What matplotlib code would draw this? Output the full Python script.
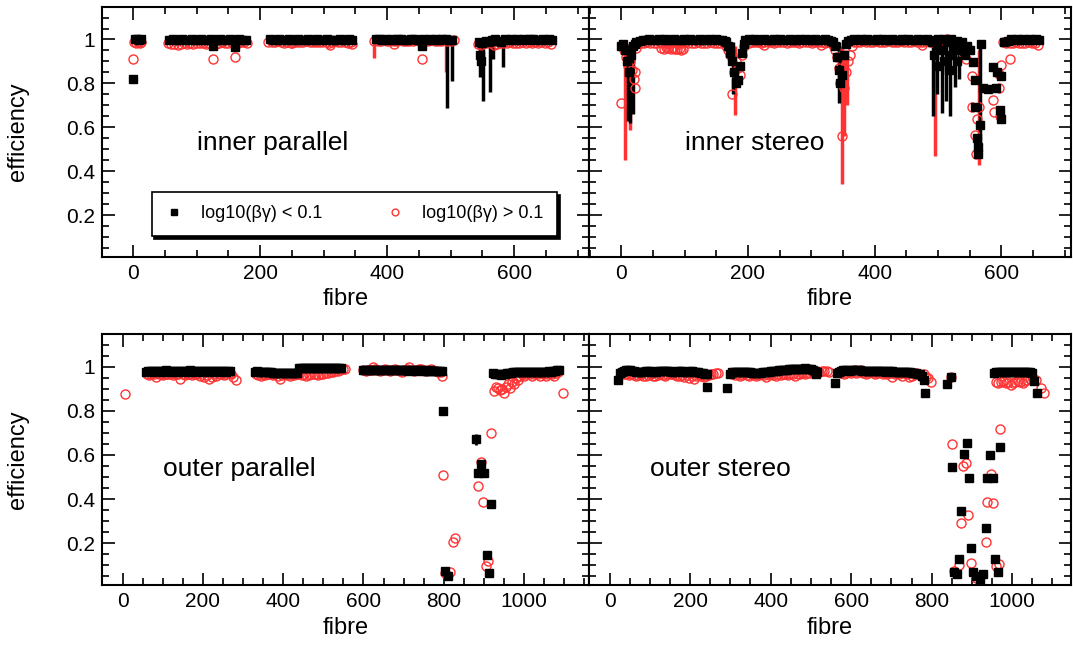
import numpy as np
import matplotlib
matplotlib.use("Agg")
import matplotlib.pyplot as plt
from matplotlib.ticker import MultipleLocator, FuncFormatter

plt.rcParams["font.family"] = ["Liberation Sans", "DejaVu Sans"]

RED = "#ff3333"

# ---- data: segments are (first fibre, fibre step, efficiencies) ----
# inner parallel
ip_k_segs = [
    (3, 3, [1.0, 1.0, 0.998, 1.0]),
    (57, 5, [0.998, 1.0, 0.999, 0.997, 1.0, 0.998, 0.999, 1.0, 0.997, 0.998, 1.0, 0.999, 0.998,
             1.0, 0.997, 0.999, 1.0, 0.998, 0.999, 1.0, 0.998, 0.997, 1.0, 0.999, 0.998]),
    (215, 5, [1.0, 0.999, 0.998, 1.0, 0.999, 0.997, 1.0, 0.998, 0.999, 1.0, 0.998, 0.999, 1.0, 0.997,
              0.999, 1.0, 0.998, 0.999, 1.0, 0.998, 0.999, 0.997, 1.0, 0.999, 0.998, 1.0, 0.999]),
    (382, 5, [1.0, 1.0, 0.999, 1.0, 0.998, 1.0, 0.999, 1.0, 1.0, 0.998, 0.999, 1.0, 1.0, 0.999,
              0.998, 1.0, 0.999, 1.0, 0.998, 1.0, 0.999, 1.0, 1.0, 0.998, 0.999]),
    (545, 5, [0.99, 0.985, 0.995, 0.99, 0.998, 1.0, 0.995, 0.99, 1.0, 0.998, 1.0, 0.999, 1.0, 0.998,
              1.0, 0.999, 1.0, 1.0, 0.998, 0.999, 1.0, 0.999, 1.0, 0.998]),
]
ip_k_x = [0, 125, 160, 455, 546, 548]
ip_k_y = [0.82, 0.97, 0.965, 0.97, 0.93, 0.90]
ip_k_spk_x = [495, 502, 546, 551, 562, 566, 583]
ip_k_spk_top = [1.0, 1.0, 1.0, 1.0, 1.0, 1.0, 1.0]
ip_k_spk_lo = [0.69, 0.81, 0.83, 0.72, 0.76, 0.91, 0.875]

ip_r_segs = [
    (1, 3, [0.99, 0.985, 0.99, 0.985, 0.99]),
    (55, 5, [0.985, 0.98, 0.978, 0.975, 0.98, 0.982, 0.978, 0.985, 0.98, 0.983, 0.985, 0.982, 0.98,
             0.985, 0.983, 0.98, 0.985, 0.987, 0.983, 0.985, 0.99, 0.987, 0.985, 0.988, 0.99, 0.985]),
    (213, 5, [0.99, 0.988, 0.99, 0.992, 0.99, 0.985, 0.988, 0.985, 0.99, 0.99, 0.988, 0.99, 0.992,
              0.99, 0.988, 0.99, 0.99, 0.988, 0.99, 0.985, 0.99, 0.992, 0.99, 0.988, 0.99, 0.985, 0.99]),
    (380, 5, [0.995, 0.993, 0.995, 0.997, 0.995, 0.993, 0.995, 0.995, 0.997, 0.995, 0.993, 0.995,
              0.995, 0.997, 0.995, 0.993, 0.995, 0.995, 0.997, 0.995, 0.993, 0.995, 0.997, 0.995,
              0.995, 0.997]),
    (543, 5, [0.98, 0.975, 0.985, 0.983, 0.985, 0.975, 0.98, 0.985, 0.983, 0.985, 0.987, 0.985,
              0.983, 0.985, 0.987, 0.985, 0.988, 0.985, 0.987, 0.985, 0.988, 0.985, 0.987, 0.98]),
]
ip_r_x = [0, 125, 160, 250, 310, 345, 410, 455]
ip_r_y = [0.91, 0.91, 0.92, 0.982, 0.975, 0.98, 0.98, 0.91]
ip_r_spk_x = [379, 493]
ip_r_spk_top = [0.995, 0.995]
ip_r_spk_lo = [0.915, 0.85]

# inner stereo
is_k_segs = [
    (0, 3, [0.97, 0.98, 0.95, 0.9, 0.85, 0.93, 0.97, 0.98]),
    (24, 5, [0.99, 0.995, 0.997, 0.998, 1.0, 0.999, 0.998, 1.0, 0.999, 1.0, 0.998, 0.999, 1.0, 0.999,
             0.998, 1.0, 0.999, 1.0, 0.998, 0.999, 1.0, 0.999, 0.998, 1.0, 0.999, 1.0, 0.998, 0.999,
             0.995]),
    (166, 3, [0.99, 0.97, 0.94, 0.9, 0.85, 0.8, 0.815, 0.88, 0.94, 0.98]),
    (196, 5, [0.998, 1.0, 0.999, 1.0, 0.998, 0.999, 1.0, 0.999, 0.998, 1.0, 0.999, 1.0, 0.998, 0.999,
              1.0, 0.999, 0.998, 1.0, 0.999, 1.0, 0.998, 0.999, 1.0, 0.999, 0.998, 1.0, 0.999, 0.995]),
    (334, 3, [0.99, 0.97, 0.92, 0.86, 0.8, 0.84, 0.93, 0.98]),
    (358, 5, [0.995, 0.999, 1.0, 0.998, 1.0, 0.999, 1.0, 0.998, 0.999, 1.0, 0.999, 1.0, 0.998, 0.999,
              1.0, 0.999, 0.998, 1.0, 0.999, 1.0, 0.998, 0.999, 1.0, 0.999, 0.998, 1.0, 0.999]),
    (490, 4, [0.99, 0.93, 0.97, 0.88, 0.95, 0.9, 0.99, 0.86, 0.93, 0.96, 0.9, 0.95, 0.99, 0.93, 0.97]),
    (605, 5, [0.99, 0.995, 1.0, 0.998, 1.0, 0.999, 1.0, 0.998, 1.0, 0.999, 1.0, 0.998]),
]
is_k_x = [500, 510, 520, 530, 551, 555, 558, 558, 562, 563, 564, 566, 568, 571, 579, 587, 592, 593,
          600, 598, 599]
is_k_y = [1.0, 1.0, 1.0, 0.995, 0.95, 0.898, 0.815, 0.694, 0.55, 0.512, 0.48, 0.61, 0.98, 0.777,
          0.773, 0.875, 0.777, 0.853, 0.833, 0.68, 0.64]
is_k_spk_x = [11, 13, 19, 177, 343, 492, 498, 506, 512, 519, 527, 533, 567]
is_k_spk_top = [0.98, 0.98, 0.97, 0.99, 0.99, 0.99, 0.99, 0.99, 0.99, 0.99, 0.99, 0.98, 0.98]
is_k_spk_lo = [0.63, 0.62, 0.66, 0.75, 0.71, 0.65, 0.75, 0.665, 0.72, 0.65, 0.785, 0.82, 0.466]

is_r_segs = [
    (2, 3, [0.97, 0.95, 0.92, 0.88, 0.9, 0.86, 0.82, 0.96]),
    (26, 5, [0.985, 0.983, 0.985, 0.987, 0.985, 0.983, 0.985, 0.987, 0.985, 0.983, 0.985, 0.987,
             0.985, 0.983, 0.985, 0.987, 0.985, 0.983, 0.985, 0.987, 0.985, 0.983, 0.985, 0.987,
             0.985, 0.983, 0.985, 0.987]),
    (166, 3, [0.97, 0.95, 0.93, 0.75, 0.85, 0.9, 0.87, 0.84, 0.93, 0.97]),
    (196, 5, [0.988, 0.986, 0.988, 0.99, 0.988, 0.986, 0.988, 0.99, 0.988, 0.986, 0.988, 0.99, 0.988,
              0.986, 0.988, 0.99, 0.988, 0.986, 0.988, 0.99, 0.988, 0.986, 0.988, 0.99, 0.988, 0.986,
              0.988, 0.985]),
    (334, 3, [0.975, 0.95, 0.92, 0.87, 0.8, 0.56, 0.78, 0.85, 0.9, 0.93, 0.97]),
    (367, 5, [0.99, 0.988, 0.99, 0.992, 0.99, 0.988, 0.99, 0.992, 0.99, 0.988, 0.99, 0.992, 0.99,
              0.988, 0.99, 0.992, 0.99, 0.988, 0.99, 0.992, 0.99, 0.988, 0.99, 0.992, 0.99]),
    (490, 5, [0.99, 0.99, 0.985, 0.98, 0.99, 1.0, 0.995, 0.98, 0.97, 0.96, 0.94, 0.91]),
    (603, 5, [0.99, 0.985, 0.983, 0.985, 0.987, 0.985, 0.983, 0.985, 0.987, 0.985, 0.985, 0.975]),
]
is_r_x = [0, 21, 22, 62, 67, 70, 74, 78, 82, 85, 88, 92, 95, 98, 225, 315, 475,
          553, 553, 561, 558, 560, 565, 587, 588, 596, 598, 596, 599, 614]
is_r_y = [0.71, 0.853, 0.78, 0.962, 0.958, 0.965, 0.96, 0.955, 0.962, 0.958, 0.955, 0.96, 0.952,
          0.957, 0.975, 0.975, 0.975,
          0.833, 0.694, 0.64, 0.565, 0.479, 0.694, 0.724, 0.67, 0.777, 0.65, 0.845, 0.883, 0.91]
is_r_spk_x = [6, 14, 179, 348, 352, 356, 496, 565]
is_r_spk_top = [0.97, 0.95, 0.97, 0.97, 0.95, 0.95, 0.98, 0.95]
is_r_spk_lo = [0.45, 0.59, 0.655, 0.34, 0.56, 0.7, 0.47, 0.43]

# outer parallel
op_k_segs = [
    (58, 5, [0.975, 0.98, 0.982, 0.98, 0.978, 0.98, 0.982, 0.98, 0.978, 0.98, 0.983, 0.98, 0.978,
             0.98, 0.982, 0.98, 0.978, 0.98, 0.982, 0.98, 0.978, 0.98, 0.983, 0.98, 0.978, 0.98,
             0.982, 0.98, 0.978, 0.98, 0.982, 0.98, 0.978, 0.98, 0.982, 0.98, 0.978, 0.98, 0.982,
             0.98, 0.978, 0.98, 0.982]),
    (330, 5, [0.978, 0.98, 0.978, 0.977, 0.978, 0.976, 0.975, 0.976, 0.974, 0.973, 0.972, 0.973,
              0.972, 0.971, 0.972, 0.973, 0.972, 0.971, 0.972, 0.973, 0.972, 0.973]),
    (440, 5, [0.993, 0.994, 0.993, 0.992, 0.993, 0.994, 0.995, 0.994, 0.993, 0.994, 0.995, 0.994,
              0.993, 0.994, 0.995, 0.994, 0.993, 0.994, 0.995, 0.994, 0.993, 0.994]),
    (600, 5, [0.985, 0.987, 0.986, 0.985, 0.984, 0.985, 0.986, 0.985, 0.984, 0.985, 0.986, 0.985,
              0.984, 0.985, 0.986, 0.985, 0.984, 0.983, 0.984, 0.985, 0.984, 0.983, 0.982, 0.983,
              0.984, 0.983, 0.982, 0.983, 0.984, 0.983, 0.982, 0.981, 0.982, 0.983, 0.982, 0.981,
              0.98, 0.981, 0.98, 0.979]),
    (922, 5, [0.97, 0.965, 0.968, 0.966, 0.964, 0.965, 0.968, 0.97, 0.972, 0.973, 0.975, 0.976,
              0.977, 0.976, 0.977, 0.978, 0.977, 0.976, 0.977, 0.978, 0.977, 0.976, 0.977, 0.978,
              0.977, 0.976, 0.977, 0.978, 0.979, 0.978, 0.979, 0.98, 0.983, 0.987]),
]
op_k_x = [797, 803, 810, 893, 886, 900, 918, 907, 912]
op_k_y = [0.80, 0.075, 0.049, 0.559, 0.517, 0.517, 0.377, 0.147, 0.064]
op_k_err_x = [881]
op_k_err_y = [0.671]
op_k_err = [0.025]

op_r_segs = [
    (60, 6, [0.965, 0.962, 0.968, 0.965, 0.955, 0.965, 0.968, 0.962, 0.965, 0.968, 0.965, 0.962,
             0.965, 0.968, 0.945, 0.965, 0.962, 0.968, 0.965, 0.962, 0.965, 0.968, 0.96, 0.965,
             0.955, 0.962, 0.945, 0.955, 0.965, 0.96, 0.965, 0.968, 0.962, 0.965, 0.97, 0.965,
             0.955, 0.94]),
    (332, 6, [0.965, 0.962, 0.96, 0.965, 0.962, 0.968, 0.965, 0.962, 0.965, 0.96, 0.945, 0.962,
              0.965, 0.962, 0.96, 0.965, 0.962, 0.965, 0.968, 0.962, 0.965, 0.96, 0.962, 0.965,
              0.968, 0.965, 0.962, 0.965, 0.968, 0.97, 0.972, 0.975, 0.978, 0.98, 0.982, 0.985,
              0.99, 0.988]),
    (600, 6, [0.985, 0.98, 0.987, 0.985, 1.0, 0.988, 0.985, 0.98, 0.985, 0.988, 0.985, 0.982,
              0.985, 0.99, 0.985, 0.982, 0.978, 0.985, 0.988, 1.0, 0.985, 0.982, 0.985, 0.988,
              0.99, 0.985, 0.982, 0.985, 0.988, 0.985, 0.982, 0.978, 0.975]),
    (925, 5, [0.89, 0.91, 0.905, 0.895, 0.90, 0.88, 0.91, 0.92, 0.905, 0.93, 0.92, 0.95, 0.94, 0.96,
              0.965, 0.96, 0.965, 0.97, 0.965, 0.96, 0.965, 0.97, 0.965, 0.96, 0.97, 0.965, 0.96,
              0.965, 0.97, 0.965, 0.96, 0.97, 0.975]),
]
op_r_x = [5, 795, 797, 803, 816, 822, 829, 893, 886, 899, 918, 911, 905, 1096]
op_r_y = [0.876, 0.96, 0.51, 0.064, 0.069, 0.207, 0.221, 0.57, 0.457, 0.386, 0.698, 0.12, 0.094,
          0.879]

# outer stereo
os_k_segs = [
    (26, 5, [0.97, 0.978, 0.982, 0.985, 0.984, 0.983, 0.982, 0.98, 0.978, 0.977, 0.976, 0.977,
             0.978, 0.979, 0.98, 0.979, 0.978, 0.977, 0.978, 0.979, 0.98, 0.981, 0.982, 0.981,
             0.98, 0.979, 0.978, 0.977, 0.978, 0.979, 0.98, 0.979, 0.978, 0.977, 0.978, 0.979,
             0.98, 0.978, 0.976, 0.974, 0.972, 0.97, 0.968, 0.965]),
    (300, 5, [0.965, 0.975, 0.978, 0.977, 0.976, 0.975, 0.974, 0.975, 0.976, 0.975, 0.974, 0.973,
              0.972, 0.971, 0.972, 0.973, 0.974, 0.975, 0.976, 0.978, 0.979, 0.98, 0.981, 0.982,
              0.983, 0.984, 0.985, 0.986, 0.987, 0.988, 0.989, 0.99, 0.991, 0.99, 0.991, 0.99,
              0.991, 0.992, 0.991, 0.99, 0.988, 0.985, 0.98, 0.975]),
    (566, 5, [0.97, 0.978, 0.982, 0.983, 0.984, 0.983, 0.982, 0.983, 0.984, 0.985, 0.984, 0.983,
              0.982, 0.981, 0.98, 0.981, 0.982, 0.981, 0.98, 0.979, 0.98, 0.981, 0.98, 0.979, 0.978,
              0.979, 0.98, 0.979, 0.978, 0.977, 0.978, 0.977, 0.976, 0.977, 0.976, 0.975, 0.974,
              0.973, 0.972, 0.97, 0.968, 0.965, 0.96]),
    (955, 5, [0.97, 0.975, 0.976, 0.977, 0.976, 0.977, 0.976, 0.975, 0.976, 0.977, 0.976, 0.975,
              0.976, 0.977, 0.976, 0.975, 0.976, 0.975, 0.974, 0.97]),
]
os_k_x = [21, 242, 292, 513, 561, 780, 784, 837, 849, 887, 880, 850, 892, 946, 970, 938, 953, 874,
          935, 897, 868, 958, 855, 862, 903, 911, 920, 928, 964, 1055, 1061]
os_k_y = [0.94, 0.909, 0.902, 0.967, 0.928, 0.94, 0.882, 0.92, 0.955, 0.653, 0.605, 0.544, 0.496,
          0.599, 0.635, 0.493, 0.493, 0.345, 0.27, 0.176, 0.13, 0.128, 0.07, 0.06, 0.07, 0.049,
          0.034, 0.06, 0.067, 0.937, 0.88]

os_r_segs = [
    (30, 6, [0.97, 0.968, 0.965, 0.963, 0.965, 0.962, 0.96, 0.962, 0.965, 0.958, 0.96, 0.962, 0.965,
             0.96, 0.958, 0.962, 0.965, 0.962, 0.96, 0.965, 0.968, 0.965, 0.962, 0.96, 0.958, 0.962,
             0.955, 0.962, 0.95, 0.96, 0.945, 0.958, 0.962, 0.96, 0.955, 0.958, 0.962, 0.965, 0.968,
             0.97, 0.972]),
    (305, 6, [0.965, 0.962, 0.965, 0.96, 0.962, 0.965, 0.962, 0.96, 0.965, 0.962, 0.958, 0.962,
              0.965, 0.962, 0.955, 0.962, 0.965, 0.962, 0.96, 0.965, 0.962, 0.965, 0.968, 0.962,
              0.965, 0.968, 0.958, 0.965, 0.968, 0.97, 0.968, 0.972, 0.97, 0.975, 0.972, 0.978,
              0.975, 0.98, 0.982, 0.98, 0.978]),
    (570, 6, [0.975, 0.97, 0.965, 0.97, 0.975, 0.97, 0.985, 0.97, 0.975, 0.985, 0.97, 0.965, 0.97,
              0.975, 0.97, 0.965, 0.97, 0.975, 0.968, 0.97, 0.965, 0.97, 0.955, 0.965, 0.97, 0.965,
              0.96, 0.97, 0.965, 0.955, 0.96, 0.965, 0.97, 0.965, 0.96, 0.965, 0.955, 0.95, 0.93]),
    (960, 6, [0.93, 0.925, 0.93, 0.935, 0.925, 0.93, 0.915, 0.925, 0.93, 0.935, 0.93, 0.925, 0.935,
              0.94, 0.945]),
]
os_r_x = [849, 850, 878, 885, 947, 970, 938, 953, 891, 873, 935, 897, 868, 855, 961, 967, 911,
          1050, 1059, 1071, 1079]
os_r_y = [0.955, 0.65, 0.55, 0.562, 0.514, 0.716, 0.387, 0.381, 0.328, 0.29, 0.205, 0.111, 0.099,
          0.072, 0.094, 0.106, 0.043, 0.955, 0.94, 0.902, 0.882]


def expand(segs, px, py):
    xs, ys = [], []
    for start, step, vals in segs:
        xs += [start + step * i for i in range(len(vals))]
        ys += list(vals)
    return np.array(xs + list(px)), np.array(ys + list(py))


def spikes(ax, x, top, lo, color):
    top = np.array(top)
    lo = np.array(lo)
    ax.errorbar(x, top, yerr=[top - lo, np.zeros_like(top)], fmt="none",
                ecolor=color, elinewidth=2.5, capsize=0)


def style(ax, xlim, left_labels):
    ax.set_xlim(*xlim)
    ax.set_ylim(0.01, 1.148)
    ax.xaxis.set_major_locator(MultipleLocator(200))
    ax.xaxis.set_minor_locator(MultipleLocator(50))
    ax.yaxis.set_major_locator(MultipleLocator(0.2))
    ax.yaxis.set_minor_locator(MultipleLocator(0.05))
    ax.yaxis.set_major_formatter(FuncFormatter(lambda v, p: f"{v:g}"))
    ax.tick_params(which="both", direction="in", top=True, right=True, width=1.2,
                   labelsize=15, pad=5)
    ax.tick_params(which="major", length=9)
    ax.tick_params(which="minor", length=5)
    ax.tick_params(labelleft=left_labels)
    for s in ax.spines.values():
        s.set_linewidth(1.5)
    ax.set_xlabel("fibre", fontsize=17, labelpad=4)
    if left_labels:
        ax.set_ylabel("efficiency", fontsize=17)
        ax.yaxis.set_label_coords(-0.15, 0.5)


def draw(ax, k, r):
    rx, ry = r
    kx, ky = k
    hr, = ax.plot(rx, ry, "o", mfc="none", mec=RED, ms=6.5, mew=1.0, ls="none")
    hk, = ax.plot(kx, ky, "s", color="k", ms=5.8, ls="none")
    return hk, hr


fig = plt.figure(figsize=(10.73, 6.46), dpi=100)
ax_ip = fig.add_axes([0.0951, 0.6022, 0.4539, 0.387])
ax_is = fig.add_axes([0.5489, 0.6022, 0.4492, 0.387])
ax_op = fig.add_axes([0.0951, 0.0944, 0.4539, 0.3885])
ax_os = fig.add_axes([0.5489, 0.0944, 0.4492, 0.3885])

# inner parallel
spikes(ax_ip, ip_r_spk_x, ip_r_spk_top, ip_r_spk_lo, RED)
spikes(ax_ip, ip_k_spk_x, ip_k_spk_top, ip_k_spk_lo, "k")
hk, hr = draw(ax_ip, expand(ip_k_segs, ip_k_x, ip_k_y), expand(ip_r_segs, ip_r_x, ip_r_y))
style(ax_ip, (-49, 718), True)
ax_ip.text(100, 0.53, "inner parallel", fontsize=19, va="center")
leg = ax_ip.legend([hk, hr], ["log10(\u03b2\u03b3) < 0.1", "log10(\u03b2\u03b3) > 0.1"],
                   ncol=2, loc="center", bbox_to_anchor=(0.102, 0.096, 0.832, 0.152),
                   mode="expand", borderaxespad=0, borderpad=0.75, fancybox=False,
                   edgecolor="k", framealpha=1, fontsize=13, handlelength=1.0,
                   handletextpad=1.0, markerscale=0.75,
                   shadow={"color": "k", "alpha": 1})
leg.get_frame().set_linewidth(1.2)

# inner stereo
spikes(ax_is, is_r_spk_x, is_r_spk_top, is_r_spk_lo, RED)
spikes(ax_is, is_k_spk_x, is_k_spk_top, is_k_spk_lo, "k")
draw(ax_is, expand(is_k_segs, is_k_x, is_k_y), expand(is_r_segs, is_r_x, is_r_y))
style(ax_is, (-51, 710), False)
ax_is.text(100, 0.53, "inner stereo", fontsize=19, va="center")

# outer parallel
draw(ax_op, expand(op_k_segs, op_k_x, op_k_y), expand(op_r_segs, op_r_x, op_r_y))
ax_op.errorbar(op_k_err_x, op_k_err_y, yerr=op_k_err, fmt="s", color="k", ms=5.8,
               elinewidth=2, capsize=0)
style(ax_op, (-51, 1162), True)
ax_op.text(100, 0.537, "outer parallel", fontsize=19, va="center")

# outer stereo
draw(ax_os, expand(os_k_segs, os_k_x, os_k_y), expand(os_r_segs, os_r_x, os_r_y))
style(ax_os, (-51, 1146), False)
ax_os.text(100, 0.537, "outer stereo", fontsize=19, va="center")

fig.savefig("out.png", dpi=100)
